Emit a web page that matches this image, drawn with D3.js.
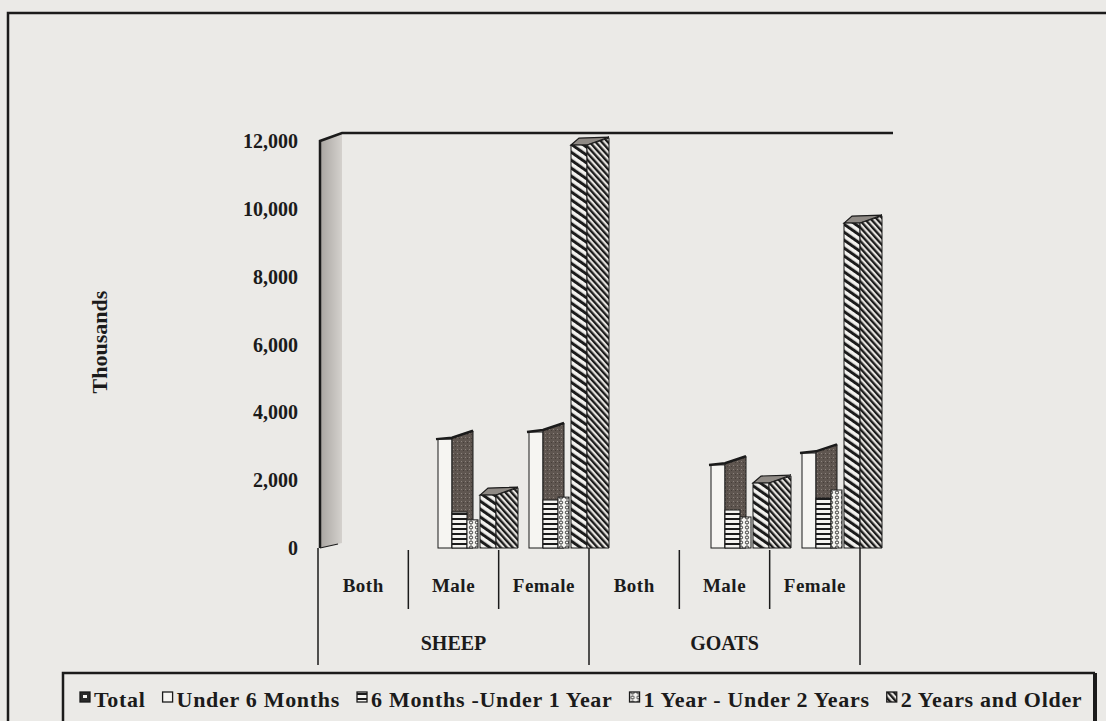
<!DOCTYPE html>
<html>
<head>
<meta charset="utf-8">
<script src="https://cdn.jsdelivr.net/npm/d3@7"></script>
<style>
  body { margin: 0; background: #ebeae7; }
  svg text { font-family: "Liberation Serif", "Times New Roman", serif; font-weight: bold; fill: #1b1b1b; }
</style>
</head>
<body>
<svg id="chart" width="1106" height="721"></svg>
<script>
var categories = ["Both", "Male", "Female", "Both", "Male", "Female"];
var groups = ["SHEEP", "GOATS"];
var seriesNames = ["Total", "Under 6 Months", "6 Months -Under 1 Year", "1 Year - Under 2 Years", "2 Years and Older"];
var total   = [0, 3250, 3480, 0, 2500, 2850];
var under6  = [0, 3210, 3420, 0, 2450, 2800];
var m6to1y  = [0, 1060, 1415, 0, 1120, 1475];
var y1to2y  = [0, 830, 1500, 0, 915, 1710];
var y2plus  = [0, 1560, 11880, 0, 1915, 9580];
var yTicks  = [0, 2000, 4000, 6000, 8000, 10000, 12000];

var svg = d3.select("#chart");
var ink = "#1b1b1b";

// scales: back plane for the bars, front plane for the label boxes
var y = d3.scaleLinear().domain([0, 12000]).range([548, 141]);
var xBack = d3.scaleBand().domain(d3.range(categories.length)).range([320, 866]);
var xFront = d3.scaleBand().domain(d3.range(categories.length)).range([318, 860]);
var xGroup = d3.scaleBand().domain(groups).range([318, 860]);

// fill patterns
var defs = svg.append("defs");

var stip = defs.append("pattern").attr("id", "stip").attr("width", 4).attr("height", 4)
  .attr("patternUnits", "userSpaceOnUse");
stip.append("rect").attr("width", 4).attr("height", 4).attr("fill", "#5f5650");
stip.append("rect").attr("x", 1).attr("y", 1).attr("width", 1).attr("height", 1).attr("fill", "#8c837d");
stip.append("rect").attr("x", 3).attr("y", 2).attr("width", 1).attr("height", 1).attr("fill", "#463e39");

var hl = defs.append("pattern").attr("id", "hlines").attr("width", 6).attr("height", 5)
  .attr("patternUnits", "userSpaceOnUse");
hl.append("rect").attr("width", 6).attr("height", 5).attr("fill", "#f4f3f0");
hl.append("rect").attr("y", 3).attr("width", 6).attr("height", 2).attr("fill", ink);

var dots = defs.append("pattern").attr("id", "dots").attr("width", 6).attr("height", 5)
  .attr("patternUnits", "userSpaceOnUse");
dots.append("rect").attr("width", 6).attr("height", 5).attr("fill", "#f4f3f0");
dots.append("circle").attr("cx", 3).attr("cy", 2.5).attr("r", 1.6)
  .attr("fill", "none").attr("stroke", ink).attr("stroke-width", 0.9);

var dw = defs.append("pattern").attr("id", "diagWide").attr("width", 10).attr("height", 6.5)
  .attr("patternUnits", "userSpaceOnUse").attr("patternTransform", "rotate(35)");
dw.append("rect").attr("width", 10).attr("height", 6.5).attr("fill", "#f3f2ef");
dw.append("rect").attr("y", 3.5).attr("width", 10).attr("height", 3).attr("fill", ink);

var dd = defs.append("pattern").attr("id", "diagDense").attr("width", 10).attr("height", 4.5)
  .attr("patternUnits", "userSpaceOnUse").attr("patternTransform", "rotate(48)");
dd.append("rect").attr("width", 10).attr("height", 4.5).attr("fill", "#e6e3df");
dd.append("rect").attr("y", 2.2).attr("width", 10).attr("height", 2.3).attr("fill", ink);

var wallGrad = defs.append("linearGradient").attr("id", "wallGrad");
wallGrad.append("stop").attr("offset", "0%").attr("stop-color", "#a9a5a1");
wallGrad.append("stop").attr("offset", "100%").attr("stop-color", "#d4d1cd");

// outer frame
svg.append("path").attr("d", "M8,721 L8,13 L1106,13")
  .attr("fill", "none").attr("stroke", ink).attr("stroke-width", 2.5);

// side wall and back wall top edge
var wx0 = 320, wx1 = 342, slant = 8;
svg.append("path")
  .attr("d", "M" + wx0 + "," + y(0) + " L" + wx0 + "," + y(12000) + " L" + wx1 + "," + (y(12000) - slant) +
    " L" + wx1 + "," + (y(0) - 5) + " Z")
  .attr("fill", "url(#wallGrad)");
svg.append("path")
  .attr("d", "M" + wx0 + "," + y(0) + " L" + wx0 + "," + y(12000) + " L" + wx1 + "," + (y(12000) - slant) +
    " L893," + (y(12000) - slant))
  .attr("fill", "none").attr("stroke", ink).attr("stroke-width", 2.5);
svg.append("path").attr("d", "M" + wx0 + "," + y(0) + " L" + (wx0 + 18) + "," + (y(0) - 4))
  .attr("stroke", ink).attr("stroke-width", 1.2).attr("fill", "none");

// y ticks
svg.selectAll(".ytick").data(yTicks).enter().append("text")
  .attr("class", "ytick")
  .attr("x", 298).attr("y", function(d) { return y(d) + 7; })
  .attr("text-anchor", "end").style("font-size", "20px")
  .text(function(d) { return d3.format(",")(d); });

svg.append("text")
  .attr("transform", "translate(107,342) rotate(-90)")
  .attr("text-anchor", "middle").style("font-size", "22px")
  .text("Thousands");

// bars
var bars = svg.append("g");
var dy = 7;

function rectFace(x0, x1, v, fill) {
  bars.append("rect")
    .attr("x", x0).attr("y", y(v)).attr("width", x1 - x0).attr("height", y(0) - y(v))
    .attr("fill", fill).attr("stroke", ink).attr("stroke-width", 1);
}
function sideFace(x0, x1, v, fill) {
  bars.append("path")
    .attr("d", "M" + x0 + "," + y(v) + " L" + x1 + "," + (y(v) - dy) + " L" + x1 + "," + y(0) +
      " L" + x0 + "," + y(0) + " Z")
    .attr("fill", fill).attr("stroke", ink).attr("stroke-width", 1);
}

categories.forEach(function(c, i) {
  var x0 = xBack(i) + 27;
  if (total[i] > 0) {
    rectFace(x0, x0 + 14, under6[i], "#f6f5f2");
    sideFace(x0 + 14, x0 + 35, total[i], "url(#stip)");
    bars.append("path")
      .attr("d", "M" + (x0 - 2) + "," + y(under6[i]) + " L" + (x0 + 14) + "," + y(total[i]) +
        " L" + (x0 + 35) + "," + (y(total[i]) - dy))
      .attr("fill", "none").attr("stroke", ink).attr("stroke-width", 2.5);
  }
  if (m6to1y[i] > 0) rectFace(x0 + 14, x0 + 29, m6to1y[i], "url(#hlines)");
  if (y1to2y[i] > 0) rectFace(x0 + 29, x0 + 40, y1to2y[i], "url(#dots)");
  if (y2plus[i] > 0) {
    var v = y2plus[i];
    bars.append("path")
      .attr("d", "M" + (x0 + 42) + "," + y(v) + " L" + (x0 + 50) + "," + (y(v) - dy) +
        " L" + (x0 + 80) + "," + (y(v) - dy - 1) + " L" + (x0 + 58) + "," + y(v) + " Z")
      .attr("fill", "#8f8a85").attr("stroke", ink).attr("stroke-width", 1.2);
    rectFace(x0 + 42, x0 + 58, v, "url(#diagWide)");
    sideFace(x0 + 58, x0 + 80, v, "url(#diagDense)");
  }
});

// category label boxes
var labels = svg.append("g");
categories.forEach(function(c, i) {
  labels.append("text")
    .attr("x", xFront(i) + xFront.bandwidth() / 2).attr("y", 592)
    .attr("text-anchor", "middle").style("font-size", "19px").style("letter-spacing", "0.5px")
    .text(c);
  if (i % 3 !== 0) {
    labels.append("line")
      .attr("x1", xFront(i)).attr("x2", xFront(i)).attr("y1", 550).attr("y2", 609)
      .attr("stroke", ink).attr("stroke-width", 1.5);
  }
});
groups.forEach(function(g) {
  labels.append("text")
    .attr("x", xGroup(g) + xGroup.bandwidth() / 2).attr("y", 650)
    .attr("text-anchor", "middle").style("font-size", "20px")
    .text(g);
});
[318, 318 + xGroup.bandwidth(), 860].forEach(function(px) {
  labels.append("line")
    .attr("x1", px).attr("x2", px).attr("y1", 548).attr("y2", 665)
    .attr("stroke", ink).attr("stroke-width", 1.5);
});

// legend
svg.append("path").attr("d", "M63,730 L63,673 L1095,673")
  .attr("fill", "none").attr("stroke", ink).attr("stroke-width", 2.5);
svg.append("line").attr("x1", 1095).attr("x2", 1095).attr("y1", 673).attr("y2", 730)
  .attr("stroke", ink).attr("stroke-width", 4);

var legendFills = ["#2a2a2a", "#f6f5f2", "url(#hlines)", "url(#dots)", "url(#diagDense)"];
var lx = 80;
seriesNames.forEach(function(name, k) {
  var item = svg.append("g").attr("transform", "translate(" + lx + ",0)");
  item.append("rect").attr("x", 0).attr("y", 692).attr("width", 10).attr("height", 10)
    .attr("fill", legendFills[k]).attr("stroke", ink).attr("stroke-width", 1.3);
  if (k === 0) {
    item.append("rect").attr("x", 3).attr("y", 695).attr("width", 4).attr("height", 3).attr("fill", "#f6f5f2");
  }
  var t = item.append("text").attr("x", 14).attr("y", 707)
    .style("font-size", "22px").style("letter-spacing", "0.7px").text(name);
  lx += 14 + t.node().getComputedTextLength() + 17;
});
</script>
</body>
</html>
